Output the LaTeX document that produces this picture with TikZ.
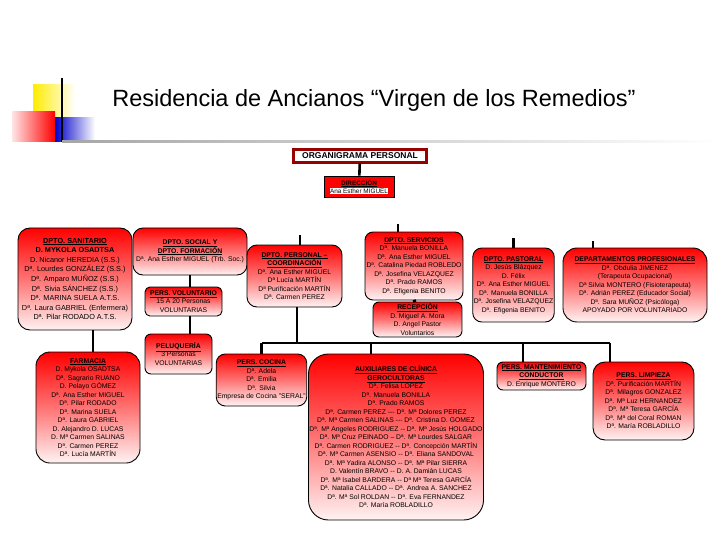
\documentclass[tikz,border=0pt]{standalone}
\usepackage{fontspec}
\setmainfont{Liberation Sans}
\usetikzlibrary{positioning}

\newcommand{\hd}[1]{\textbf{\underline{#1}}}
\setlength{\fboxsep}{0.4pt}

\begin{document}
\begin{tikzpicture}[
	x=1pt, y=1pt,
	every node/.style={inner sep=1pt},
	box/.style={draw=black, line width=0.9pt, rounded corners=7pt,
		top color=red, bottom color=red!5, middle color=red!55, align=center,
		font=\fontsize{6.8}{8.5}\selectfont},
	link/.style={line width=2.6pt}
	]
	
	% Page frame
	\useasboundingbox (0,-540) rectangle (720,0);
	
	% Title decoration
	\shade[left color=yellow!85!orange, right color=white] (33,-85) rectangle (75,-118);
	\shade[left color=red!10, right color=red] (12,-112) rectangle (55,-142);
	\shade[left color=blue!80!black, right color=white] (55,-118) rectangle (95,-142);
	\draw[line width=1.4pt] (62,-78) -- (62,-142);
	\shade[left color=gray!70, right color=white] (62,-140.5) rectangle (720,-143);
	
	\node (title) at (374,-100) {\fontsize{23.5}{26}\selectfont Residencia de Ancianos “Virgen de los Remedios”};
	
	% Head boxes
	\node[draw=red!60!black, line width=2.2pt, fill=white, minimum width=133pt, minimum height=13pt,
		font=\bfseries\fontsize{8.5}{9}\selectfont] (org) at (360,-156) {ORGANIGRAMA PERSONAL};
	\node[draw=black, line width=0.6pt, fill=red, minimum width=70pt, minimum height=21pt, align=center,
		font=\fontsize{6.4}{8}\selectfont] (dir) at (359,-186.5) {\hd{DIRECCIÓN}\\\colorbox{white}{Ana Esther MIGUEL}};
	
	% First row
	\node[box, minimum width=114pt, minimum height=102pt, rounded corners=12pt,
		font=\fontsize{7.3}{9.6}\selectfont] (san) at (75,-279)
		{\hd{DPTO. SANITARIO}\\\textbf{D. MYKOLA OSADTSA}\\D. Nicanor HEREDIA (S.S.)\\Dª. Lourdes GONZÁLEZ (S.S.)\\Dª. Amparo MUÑOZ (S.S.)\\Dª. Sivia SÁNCHEZ (S.S.)\\Dª. MARINA SUELA A.T.S.\\Dª. Laura GABRIEL (Enfermera)\\Dª. Pilar RODADO A.T.S.};
	\node[box, minimum width=114pt, minimum height=47pt, rounded corners=10pt] (soc) at (190,-251.5)
		{\hd{DPTO. SOCIAL Y}\\\hd{DPTO. FORMACIÓN}\\Dª. Ana Esther MIGUEL (Trb. Soc.)};
	\node[box, minimum width=77pt, minimum height=29pt, rounded corners=5pt] (vol) at (183.5,-301.5)
		{\hd{PERS. VOLUNTARIO}\\15 A 20 Personas\\VOLUNTARIAS};
	\node[box, minimum width=67pt, minimum height=40pt, rounded corners=6pt] (pel) at (178.5,-354)
		{\hd{PELUQUERÍA}\\3 Personas\\VOLUNTARIAS};
	\node[box, minimum width=95pt, minimum height=62pt, rounded corners=10pt] (pers) at (294.5,-276)
		{\hd{DPTO. PERSONAL –}\\\hd{COORDINACIÓN}\\Dª. Ana Esther MIGUEL\\Dª Lucía MARTÍN\\Dª Purificación MARTÍN\\Dª. Carmen PEREZ};
	\node[box, minimum width=98pt, minimum height=68pt, rounded corners=8pt] (serv) at (414,-266)
		{\hd{DPTO. SERVICIOS}\\Dª. Manuela BONILLA\\Dª. Ana Esther MIGUEL\\Dª. Catalina Piedad ROBLEDO\\Dª. Josefina VELAZQUEZ\\Dª. Prado RAMOS\\Dª. Efigenia BENITO};
	\node[box, minimum width=89pt, minimum height=35pt, rounded corners=6pt] (rec) at (417.5,-319.5)
		{\hd{RECEPCIÓN}\\D. Miguel A. Mora\\D. Angel Pastor\\Voluntarios};
	\node[box, minimum width=79pt, minimum height=74pt, rounded corners=9pt] (past) at (513.5,-285)
		{\hd{DPTO. PASTORAL}\\D. Jesús Blázquez\\D. Félix\\Dª. Ana Esther MIGUEL\\Dª. Manuela BONILLA\\Dª. Josefina VELAZQUEZ\\Dª. Efigenia BENITO};
	\node[box, minimum width=144pt, minimum height=74pt, rounded corners=14pt] (prof) at (635,-285)
		{\hd{DEPARTAMENTOS PROFESIONALES}\\Dª. Obdulia JIMENEZ\\(Terapeuta Ocupacional)\\Dª Silvia MONTERO (Fisioterapeuta)\\Dª. Adrián PEREZ (Educador Social)\\Dª. Sara MUÑOZ (Psicóloga)\\APOYADO POR VOLUNTARIADO};
	
	% Second row
	\node[box, minimum width=104pt, minimum height=111pt, rounded corners=14pt] (farm) at (88,-407.5)
		{\hd{FARMACIA}\\D. Mykola OSADTSA\\Dª. Sagrario RUANO\\D. Pelayo GÓMEZ\\Dª. Ana Esther MIGUEL\\Dª. Pilar RODADO\\Dª. Marina SUELA\\Dª. Laura GABRIEL\\D. Alejandro D. LUCAS\\D. Mª Carmen SALINAS\\Dª. Carmen PEREZ\\Dª. Lucía MARTÍN};
	\node[box, minimum width=87pt, minimum height=52pt, rounded corners=9pt] (coc) at (261.5,-380)
		{\hd{PERS. COCINA}\\Dª. Adela\\Dª. Emilia\\Dª. Silvia\\Empresa de Cocina "SERAL"};
	\node[box, minimum width=172pt, minimum height=166pt, rounded corners=20pt] (aux) at (396,-437)
		{\hd{AUXILIARES DE CLÍNICA}\\\hd{GEROCULTORAS}\\Dª. Felisa LÓPEZ\\Dª. Manuela BONILLA\\Dª. Prado RAMOS\\
		Dª. Carmen PEREZ -{}-{}- Dª. Mª Dolores PEREZ\\Dª. Mª Carmen SALINAS -{}-{}- Dª. Cristina D. GOMEZ\\
		Dª. Mª Angeles RODRIGUEZ -{}- Dª. Mª Jesús HOLGADO\\Dª. Mª Cruz PEINADO – Dª. Mª Lourdes SALGAR\\
		Dª. Carmen RODRIGUEZ -{}- Dª. Concepción MARTÍN\\Dª. Mª Carmen ASENSIO -{}- Dª. Eliana SANDOVAL\\
		Dª. Mª Yadira ALONSO -{}- Dª. Mª Pilar SIERRA\\D. Valentín BRAVO -{}- D. A. Damián LUCAS\\
		Dª. Mª Isabel BARDERA -{}- Dª Mª Teresa GARCÍA\\Dª. Natalia CALLADO -{}- Dª. Andrea A. SANCHEZ\\
		Dª. Mª Sol ROLDAN -{}- Dª. Eva FERNANDEZ\\Dª. María ROBLADILLO};
	\node[box, minimum width=89pt, minimum height=28pt, rounded corners=6pt] (mant) at (541.5,-376)
		{\hd{PERS. MANTENIMIENTO}\\\hd{CONDUCTOR}\\D. Enrique MONTERO};
	\node[box, minimum width=101pt, minimum height=78pt, rounded corners=12pt] (limp) at (643.5,-401)
		{\hd{PERS. LIMPIEZA}\\Dª. Purificación MARTÍN\\Dª. Milagros GONZALEZ\\Dª. Mª Luz HERNANDEZ\\Dª. Mª Teresa GARCÍA\\Dª. Mª del Coral ROMAN\\Dª. María ROBLADILLO};
	
	% Connectors
	\coordinate (busB) at (297,-343);
	\coordinate (servIn) at ([xshift=-16pt]serv.north);
	\coordinate (profIn) at ([xshift=-42pt]prof.north);
	\coordinate (persIn) at ([xshift=5.5pt]pers.north);
	\coordinate (persOut) at ([xshift=2.5pt]pers.south);
	\coordinate (auxIn) at ([xshift=-25pt]aux.north);
	\coordinate (mantIn) at ([xshift=-18.5pt]mant.north);
	\coordinate (limpIn) at ([xshift=-33.5pt]limp.north);
	
	\draw[link] (org) -- (dir);
	% short stubs above the first row
	\foreach \b/\len in {persIn/10, servIn/8, past.north/10, profIn/7}
	\draw[link] (\b) -- ++(0,\len);
	
	\draw[link] ([xshift=5pt]farm.north) -- ([xshift=5pt]farm.north |- san.south);
	\draw[link] (soc.south) -- (soc.south |- vol.north);
	\draw[link] (vol.south -| soc.south) -- (pel.north -| soc.south);
	\draw[link] ([xshift=2pt]serv.south) -- ([xshift=-4.5pt]rec.north);
	
	\draw[link] (persOut) -- (busB);
	\draw[link] (busB -| coc.north) -- (busB -| limpIn);
	\foreach \b in {coc.north, auxIn, mantIn, limpIn}
	\draw[link] (\b) -- (busB -| \b);
	
\end{tikzpicture}
\end{document}
